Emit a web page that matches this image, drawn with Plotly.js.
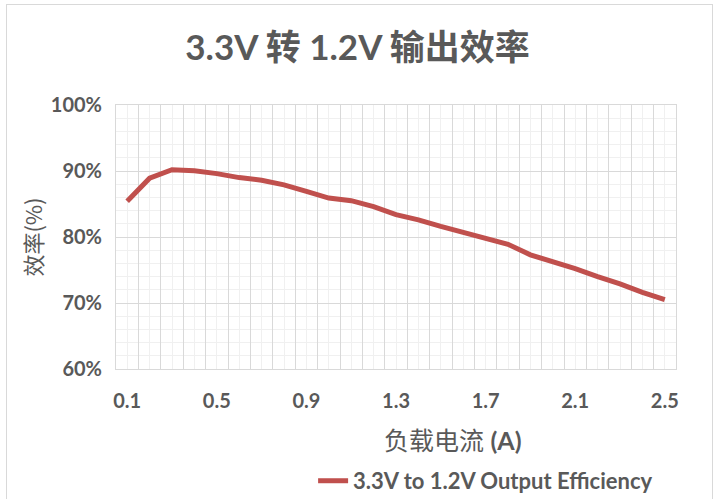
<!DOCTYPE html>
<html>
<head>
<meta charset="utf-8">
<script src="https://cdn.plot.ly/plotly-3.0.1.min.js"></script>
<style>
  html, body { margin: 0; padding: 0; background: #fff; overflow: hidden; }
  #chart { width: 715px; height: 499px; position: absolute; left: 0; top: 0; }
  #frame { position: absolute; left: 6px; top: 4px; width: 705px; height: 520px;
           border: 1px solid #d9d9d9; pointer-events: none; }
</style>
</head>
<body>
<div id="chart"></div>
<div id="frame"></div>
<script>
const currents = [0.1,0.2,0.3,0.4,0.5,0.6,0.7,0.8,0.9,1.0,1.1,1.2,1.3,1.4,1.5,1.6,1.7,1.8,1.9,2.0,2.1,2.2,2.3,2.4,2.5];
const efficiency = [85.4,88.9,90.2,90.05,89.6,89.0,88.6,87.9,86.9,85.9,85.5,84.6,83.4,82.6,81.6,80.7,79.8,78.9,77.3,76.3,75.2,74.0,72.9,71.6,70.5];
const xTickVals = [0.1,0.5,0.9,1.3,1.7,2.1,2.5];
const xTickText = ['0.1','0.5','0.9','1.3','1.7','2.1','2.5'];
const seriesName = '3.3V to 1.2V Output Efficiency';
const chartTitle = '<b>3.3V 转 1.2V 输出效率</b>';
const yTitle = '效率(%)';
const xTitle = '负载电流 <b>(A)</b>';

const gray = '#595959';
const font = 'Lato, "Noto Sans CJK SC", sans-serif';
const xr = [currents[0] - 0.05, currents[currents.length - 1] + 0.05];

const traces = [
  {
    x: currents, y: efficiency, type: 'scatter', mode: 'lines',
    name: seriesName, xaxis: 'x', yaxis: 'y',
    line: { color: '#c0504d', width: 5 }, hoverinfo: 'x+y'
  },
  {
    x: currents, y: efficiency, type: 'scatter', mode: 'lines',
    xaxis: 'x2', yaxis: 'y', showlegend: false, hoverinfo: 'skip',
    line: { color: 'rgba(0,0,0,0)', width: 0 }
  }
];

const layout = {
  width: 715, height: 499,
  margin: { l: 116, r: 39, t: 105, b: 130, autoexpand: false },
  paper_bgcolor: '#fff', plot_bgcolor: '#fff',
  font: { family: font, color: gray },
  title: { text: chartTitle, font: { family: font, size: 35, color: gray },
           x: 0.5, xanchor: 'center', y: 0.905, yanchor: 'middle' },
  xaxis: {
    range: xr, tickmode: 'linear', tick0: 0.05, dtick: 0.1,
    showticklabels: false, showgrid: true, gridcolor: '#d9d9d9', gridwidth: 1,
    minor: { tick0: 0.05, dtick: 0.05, showgrid: true, gridcolor: '#f0f0f0', gridwidth: 1 },
    zeroline: false, showline: true, linecolor: '#d9d9d9', mirror: true, ticks: ''
  },
  xaxis2: {
    overlaying: 'x', side: 'bottom', range: xr,
    tickmode: 'array', tickvals: xTickVals, ticktext: xTickText,
    showgrid: false, zeroline: false, showline: false, ticks: '',
    ticklabelstandoff: 18,
    tickfont: { family: font, size: 20, color: gray, weight: 'bold' }
  },
  yaxis: {
    range: [60, 100], tickmode: 'linear', tick0: 60, dtick: 10, ticksuffix: '%',
    showgrid: true, gridcolor: '#d9d9d9', gridwidth: 1,
    minor: { dtick: 2, showgrid: true, gridcolor: '#f0f0f0', gridwidth: 1 },
    zeroline: false, showline: true, linecolor: '#d9d9d9', mirror: true, ticks: '',
    ticklabelstandoff: 9,
    tickfont: { family: font, size: 20, color: gray, weight: 'bold' },
    title: { text: yTitle, standoff: 2, font: { family: '"Noto Sans CJK SC", sans-serif', size: 22, color: gray } }
  },
  annotations: [
    { text: xTitle, xref: 'paper', yref: 'paper', x: 0.601, y: -0.27,
      xanchor: 'center', yanchor: 'middle', showarrow: false,
      font: { family: font, size: 25, color: gray } }
  ],
  showlegend: true,
  legend: {
    orientation: 'h', x: 0.66, y: -0.424, xanchor: 'center', yanchor: 'middle',
    font: { family: font, size: 22, color: gray, weight: 'bold' },
    bgcolor: 'rgba(0,0,0,0)'
  }
};

Plotly.newPlot('chart', traces, layout, { staticPlot: true, displayModeBar: false });
</script>
</body>
</html>
